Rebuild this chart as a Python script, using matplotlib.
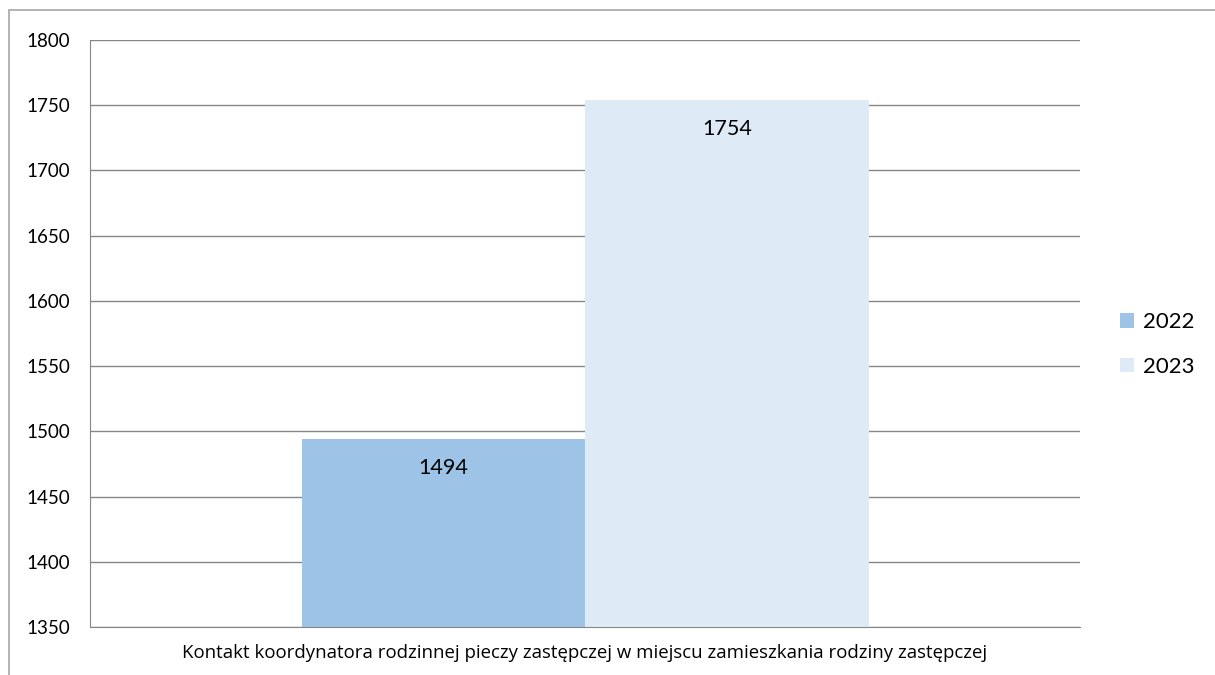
import matplotlib.pyplot as plt
from matplotlib.patches import Rectangle

category = "Kontakt koordynatora rodzinnej pieczy zastępczej w miejscu zamieszkania rodziny zastępczej"
years = ["2022", "2023"]
values = [1494, 1754]
colors = ["#9DC3E6", "#DEEBF7"]
yticks = [1350, 1400, 1450, 1500, 1550, 1600, 1650, 1700, 1750, 1800]

plt.rcParams["font.family"] = ["Lato", "DejaVu Sans"]

fig = plt.figure(figsize=(12.15, 6.75), dpi=100)
W, H = 1215, 675
ax = fig.add_axes([90 / W, 1 - 627 / H, 990 / W, 587 / H])

# outer chart border (light gray frame)
fig.add_artist(Rectangle((9 / W, -0.1), 1.2, 1 - 10 / H + 0.1, transform=fig.transFigure,
                         fill=False, edgecolor="#A6A6A6", linewidth=1.2))

bw = 283.5 / 990
offsets = [-bw / 2, bw / 2]
for yr, v, c, off in zip(years, values, colors, offsets):
    ax.bar(0.5 + off, v - 1350, bottom=1350, width=bw, color=c, label=yr, zorder=2)
    ax.text(0.5 + off, v - 22, str(v), ha="center", va="center", fontsize=15.5, zorder=3)

ax.set_xlim(0, 1)
ax.set_ylim(1350, 1800)
ax.set_yticks(yticks)
ax.set_yticklabels([str(t) for t in yticks], fontsize=13.5)
ax.tick_params(axis="y", length=0, pad=14)
ax.set_xticks([0.5])
ax.set_xticklabels([category], fontsize=13.4, family=["Open Sans", "DejaVu Sans"])
ax.tick_params(axis="x", length=0, pad=12)
ax.grid(axis="y", color="#868686", linewidth=1, zorder=0)
for s in ["top", "right"]:
    ax.spines[s].set_visible(False)
for s in ["left", "bottom"]:
    ax.spines[s].set_color("#868686")

ax.legend(loc="center left", bbox_to_anchor=(1.02, 0.481), frameon=False, fontsize=16,
          handlelength=0.65, handleheight=0.65, handletextpad=0.4, labelspacing=1.1)

fig.savefig("out.png", dpi=100)
